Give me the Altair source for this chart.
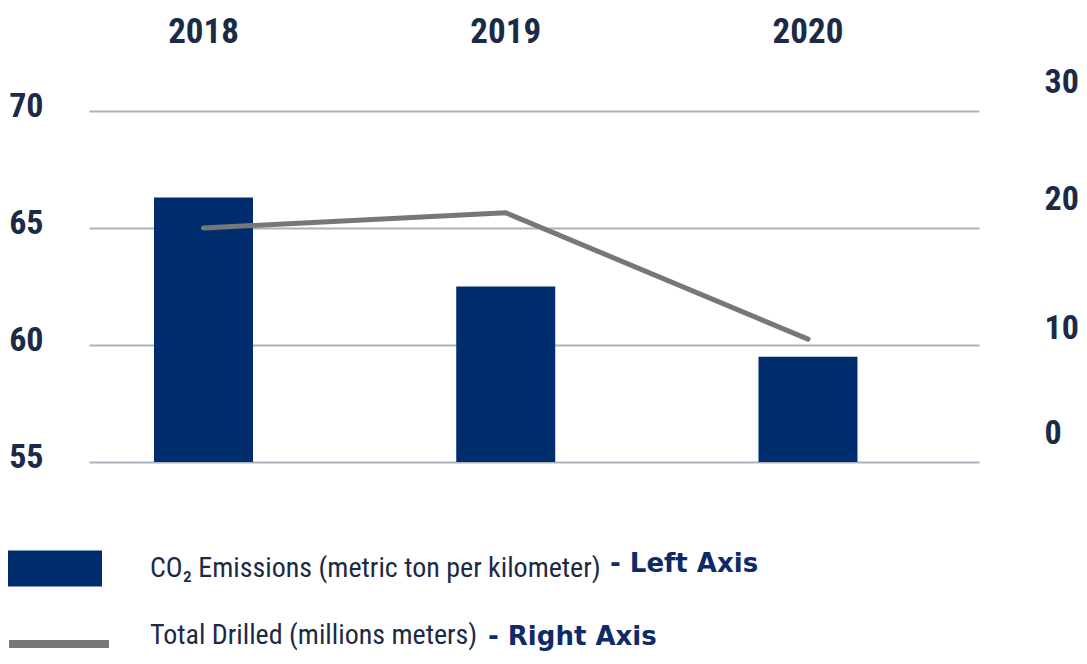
import altair as alt
import pandas as pd

years = ["2018", "2019", "2020"]
co2_emissions = [66.3, 62.5, 59.5]
total_drilled = [20.0, 21.3, 10.5]
left_ticks = [55, 60, 65, 70]
right_ticks = [0, 10, 20, 30]
co2_label = "CO\u2082 Emissions (metric ton per kilometer)"
drill_label = "Total Drilled (millions meters)"
notes = ["- Left Axis", "- Right Axis"]

NAVY = "#002d6e"
GRAY = "#777777"
TEXT = "#1b2a47"
NOTE = "#0f2a68"
GRID = "#aab2c0"
FONT_C = "Roboto Condensed, Open Sans Condensed, Liberation Sans Narrow, Roboto, sans-serif"
FONT_B = "DejaVu Sans, Verdana, sans-serif"

df = pd.DataFrame({
    "year": years,
    "co2": co2_emissions,
    "drilled": total_drilled,
    "s1": [co2_label] * 3,
    "s2": [drill_label] * 3,
})

x_enc = alt.X(
    "year:N",
    scale=alt.Scale(paddingInner=0.6725, paddingOuter=0.3086, align=0.3485),
    axis=alt.Axis(orient="top", title=None, labelAngle=0, labelPadding=69,
                  labelBaseline="alphabetic",
                  labelFont=FONT_C, labelFontSize=35, labelFontWeight="bold",
                  labelColor=TEXT, domain=False, ticks=False, tickSize=0, grid=False),
)

bars = alt.Chart(df).mark_bar(strokeWidth=0).encode(
    x=x_enc,
    y=alt.Y("co2:Q", scale=alt.Scale(domain=[55, 70], zero=False, nice=False),
            axis=alt.Axis(orient="left", title=None, values=left_ticks,
                          labelPadding=46, labelOffset=-5,
                          labelFont=FONT_C, labelFontSize=34, labelFontWeight="bold",
                          labelColor=TEXT, domain=False, ticks=False, tickSize=0,
                          grid=True, gridColor=GRID, gridWidth=2)),
    y2=alt.Y2(datum=55),
    fill=alt.Fill("s1:N", scale=alt.Scale(domain=[co2_label], range=[NAVY]),
                  legend=alt.Legend(orient="none", legendX=-84, legendY=409, title=None,
                                    padding=0, symbolType="M-1,-0.37L1,-0.37L1,0.37L-1,0.37Z",
                                    symbolSize=9409, symbolStrokeWidth=0, symbolOpacity=1,
                                    labelFont=FONT_C, labelFontSize=28, labelColor=TEXT,
                                    labelOffset=48, labelLimit=1000)),
)

line = alt.Chart(df).mark_line(strokeWidth=5, strokeCap="round", strokeJoin="round").encode(
    x=x_enc,
    y=alt.Y("drilled:Q", scale=alt.Scale(domain=[0, 30], nice=False),
            axis=alt.Axis(orient="right", title=None, values=right_ticks,
                          labelPadding=65,
                          labelOffset={"condition": {"test": "datum.value === 10", "value": -17}, "value": -29},
                          labelFont=FONT_C, labelFontSize=34, labelFontWeight="bold",
                          labelColor=TEXT, domain=False, ticks=False, tickSize=0, grid=False)),
    stroke=alt.Stroke("s2:N", scale=alt.Scale(domain=[drill_label], range=[GRAY]),
                      legend=alt.Legend(orient="none", legendX=-84, legendY=479, title=None,
                                        padding=0, symbolType="stroke", symbolSize=10000,
                                        symbolStrokeWidth=8, symbolOpacity=1,
                                        labelFont=FONT_C, labelFontSize=28, labelColor=TEXT,
                                        labelBaseline="alphabetic",
                                        labelOffset=37, labelLimit=1000)),
)

notes_df = pd.DataFrame({"note": notes})
note1 = alt.Chart(notes_df).transform_filter(alt.datum.note == notes[0]).mark_text(
    align="left", baseline="middle", font=FONT_B, fontSize=26, fontWeight="bold", color=NOTE
).encode(text="note:N", x=alt.value(521), y=alt.value(453))
note2 = alt.Chart(notes_df).transform_filter(alt.datum.note == notes[1]).mark_text(
    align="left", baseline="middle", font=FONT_B, fontSize=26, fontWeight="bold", color=NOTE
).encode(text="note:N", x=alt.value(399), y=alt.value(526))

chart = alt.layer(bars, line, note1, note2).resolve_scale(
    y="independent", fill="independent", stroke="independent"
).properties(
    width=890, height=351,
    autosize=alt.AutoSizeParams(type="none"),
    padding={"left": 81, "top": 103, "right": 100, "bottom": 193},
    background="white",
).configure_view(strokeWidth=0)

chart.save("out.html", embed_options={"renderer": "svg", "actions": False})
